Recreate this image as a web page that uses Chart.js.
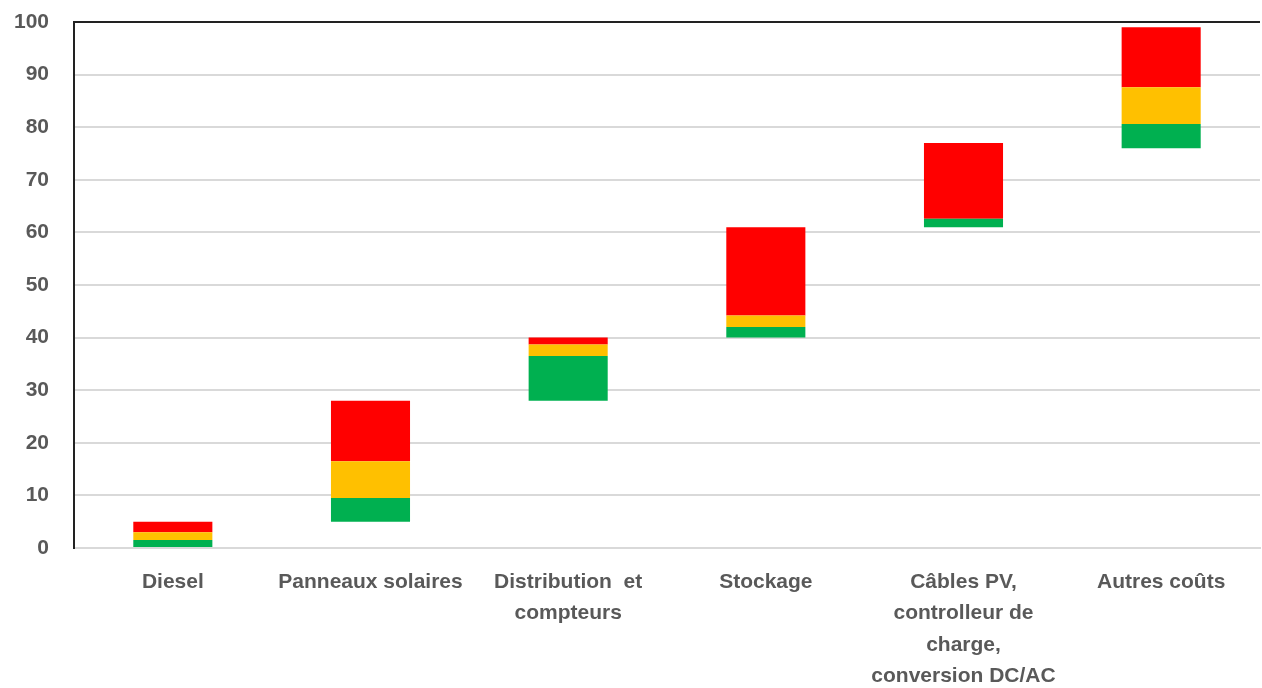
<!DOCTYPE html>
<html>
<head>
<meta charset="utf-8">
<script src="https://cdn.jsdelivr.net/npm/chart.js@4/dist/chart.umd.min.js"></script>
<style>
  html, body { margin: 0; padding: 0; background: #fff; }
  #wrap { width: 1262px; height: 688px; }
</style>
</head>
<body>
<div id="wrap"><canvas id="c"></canvas></div>
<script>
// categories (multi-line labels as in the original)
var categories = [
  'Diesel',
  'Panneaux solaires',
  ['Distribution  et', 'compteurs'],
  'Stockage',
  ['Câbles PV,', 'controlleur de', 'charge,', 'conversion DC/AC'],
  'Autres coûts'
]

// invisible base of each floating bar, then the three stacked bands
var base   = [0,   5,    28,  40,   61,   76]
var green  = [1.5, 4.5,  8.5, 2,    1.6,  4.6]
var yellow = [1.5, 7,    2.2, 2.2,  0,    7]
var red    = [2,   11.5, 1.3, 16.8, 14.4, 11.4]

var yTicks = [0, 10, 20, 30, 40, 50, 60, 70, 80, 90, 100]

var font = { family: '"Liberation Sans", Arial, sans-serif', size: 21, weight: 'bold' }

function band(label, data, color){
  return {
    label: label,
    data: data,
    backgroundColor: color,
    borderWidth: 0,
    barPercentage: 0.8,
    categoryPercentage: 0.5
  }
}

new Chart(document.getElementById('c').getContext('2d'), {
  type: 'bar',
  data: {
    labels: categories,
    datasets: [
      band('base', base, 'rgba(0,0,0,0)'),
      band('vert', green, '#00B050'),
      band('jaune', yellow, '#FFC000'),
      band('rouge', red, '#FF0000')
    ]
  },
  options: {
    responsive: true,
    maintainAspectRatio: false,
    animation: false,
    layout: { padding: { top: 22, right: 2, left: 0, bottom: 0 } },
    plugins: { legend: { display: false }, tooltip: { enabled: false } },
    scales: {
      x: {
        stacked: true,
        grid: { display: false, drawTicks: false },
        border: { color: '#d9d9d9', width: 2 },
        ticks: { color: '#595959', font: Object.assign({ lineHeight: 1.5 }, font), padding: 18, maxRotation: 0, autoSkip: false },
        afterFit: function(scale){ scale.height = 140 }
      },
      y: {
        stacked: true,
        min: 0,
        max: 100,
        afterBuildTicks: function(scale){ scale.ticks = yTicks.map(function(v){ return { value: v } }) },
        grid: {
          drawTicks: false,
          lineWidth: 2,
          color: function(ctx){ return ctx.tick && ctx.tick.value === 100 ? '#222' : '#d9d9d9' }
        },
        border: { color: '#222', width: 2 },
        ticks: { color: '#595959', font: font, padding: 25 },
        afterFit: function(scale){
          scale.width = 74
          scale.paddingTop = 0
          scale.paddingBottom = 0
        }
      }
    }
  }
})
</script>
</body>
</html>
